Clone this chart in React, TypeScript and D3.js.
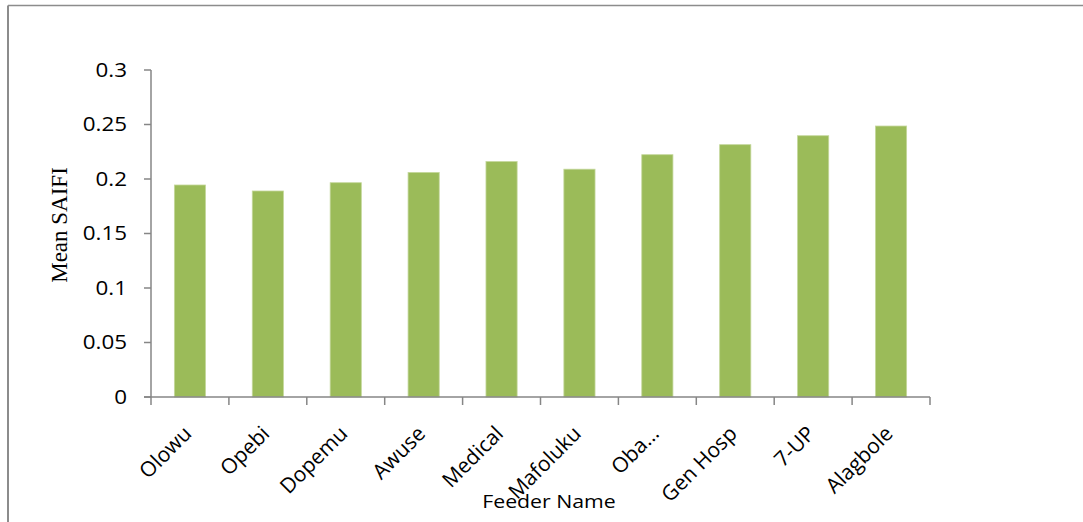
import React from "react";
import * as d3 from "d3";

const categories = ["Olowu", "Opebi", "Dopemu", "Awuse", "Medical", "Mafoluku", "Oba…", "Gen Hosp", "7-UP", "Alagbole"];
const meanSaifi = [0.1945, 0.189, 0.1966, 0.206, 0.216, 0.209, 0.2223, 0.2315, 0.2397, 0.2486];
const yTicks = [0, 0.05, 0.1, 0.15, 0.2, 0.25, 0.3];
const yTickLabels = ["0", "0.05", "0.1", "0.15", "0.2", "0.25", "0.3"];

const W = 1083;
const H = 522;
const left = 151;
const right = 930;
const top = 70;
const bottom = 397;

export default function App() {
  const x = d3.scaleBand<string>().domain(categories).range([left, right]).paddingInner(0.6).paddingOuter(0.3);
  const y = d3.scaleLinear().domain([0, 0.3]).range([bottom, top]);
  const step = x.step();
  const axisColor = "#868686";
  const sans = "'Open Sans', 'Liberation Sans', sans-serif";
  const boundaries = d3.range(categories.length + 1).map((i) => left + i * step);

  return (
    <svg width={W} height={H} style={{ position: "absolute", left: 0, top: 0, background: "#fff" }}>
      {/* outer frame */}
      <line x1={8} y1={5.5} x2={W} y2={5.5} stroke="#8c8c8c" strokeWidth={1.5} />
      <line x1={8} y1={5.5} x2={8} y2={H} stroke="#8c8c8c" strokeWidth={2} />

      {/* bars */}
      {categories.map((c, i) => (
        <rect
          key={c}
          x={x(c)}
          y={y(meanSaifi[i])}
          width={x.bandwidth()}
          height={y(0) - y(meanSaifi[i])}
          fill="#9BBB59"
          stroke="#c4d79b"
          strokeWidth={0.8}
        />
      ))}

      {/* y axis */}
      <line x1={left} y1={top} x2={left} y2={bottom} stroke={axisColor} strokeWidth={1.5} />
      {yTicks.map((t, i) => (
        <g key={t}>
          <line x1={left - 7} y1={y(t)} x2={left} y2={y(t)} stroke={axisColor} strokeWidth={1.5} />
          <text
            x={127}
            y={y(t)}
            dy="0.35em"
            textAnchor="end"
            fontFamily={sans}
            fontSize={20}
            fill="#000"
            transform={`translate(127,0) scale(1.12,1) translate(-127,0)`}
          >
            {yTickLabels[i]}
          </text>
        </g>
      ))}

      {/* x axis */}
      <line x1={left - 7} y1={bottom} x2={right} y2={bottom} stroke={axisColor} strokeWidth={1.5} />
      {boundaries.map((bx, i) => (
        <line key={i} x1={bx} y1={bottom} x2={bx} y2={bottom + 8} stroke={axisColor} strokeWidth={1.5} />
      ))}
      {categories.map((c) => {
        const cx = (x(c) as number) + x.bandwidth() / 2 + 3;
        const cy = 435;
        return (
          <text
            key={c}
            transform={`translate(${cx},${cy}) rotate(-45)`}
            textAnchor="end"
            fontFamily={sans}
            fontSize={21}
            fill="#000"
          >
            {c}
          </text>
        );
      })}

      {/* axis titles */}
      <text
        transform={`translate(549,508) scale(1.12,1)`}
        textAnchor="middle"
        fontFamily={sans}
        fontSize={19}
        fill="#000"
      >
        Feeder Name
      </text>
      <text
        transform={`translate(67,225) rotate(-90)`}
        textAnchor="middle"
        fontFamily="'Liberation Serif', 'Times New Roman', serif"
        fontSize={23}
        fill="#000"
      >
        Mean SAIFI
      </text>
    </svg>
  );
}
